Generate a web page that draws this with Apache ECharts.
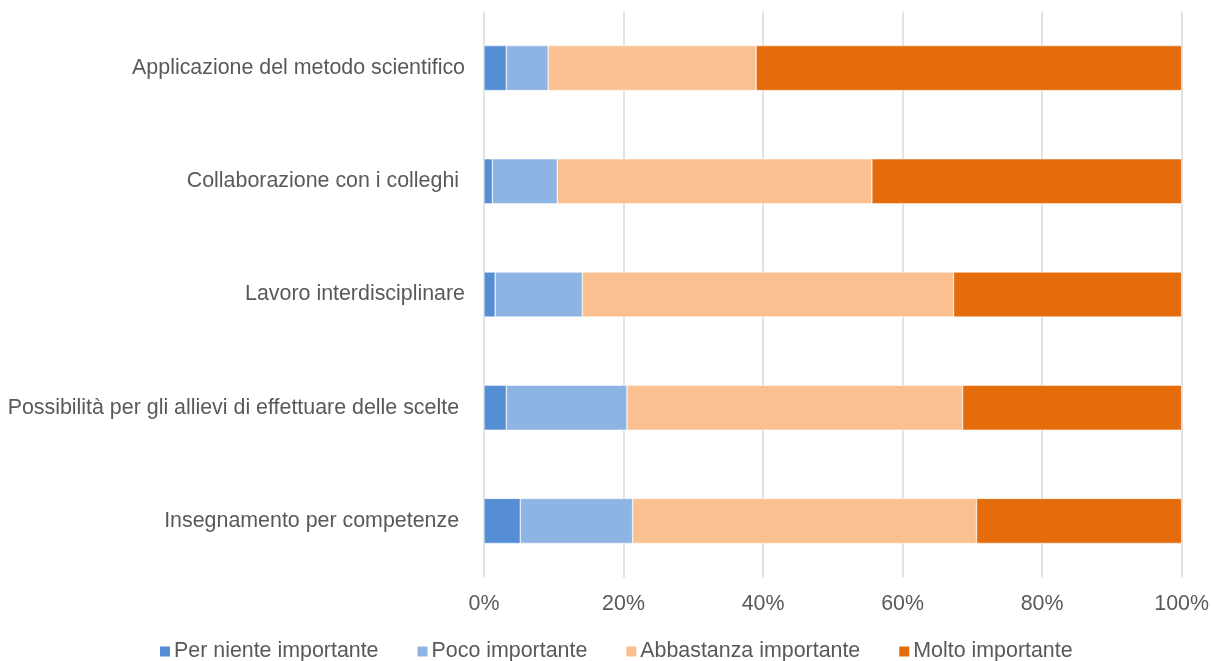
<!DOCTYPE html>
<html>
<head>
<meta charset="utf-8">
<script src="https://cdn.jsdelivr.net/npm/echarts@6/dist/echarts.min.js"></script>
<style>
html,body{margin:0;padding:0;background:#fff;}
#chart{width:1212px;height:661px;}
</style>
</head>
<body>
<div id="chart"></div>
<script>
const categories = [
  "Applicazione del metodo scientifico",
  "Collaborazione con i colleghi ",
  "Lavoro interdisciplinare",
  "Possibilità per gli allievi di effettuare delle scelte ",
  "Insegnamento per competenze "
];
const seriesNames = ["Per niente importante", "Poco importante", "Abbastanza importante", "Molto importante"];
const perNiente = [3.2, 1.2, 1.6, 3.2, 5.2];
const poco = [6.0, 9.3, 12.5, 17.3, 16.1];
const abbastanza = [29.8, 45.1, 53.2, 48.1, 49.3];
const molto = [61.0, 44.4, 32.7, 31.4, 29.4];
const colors = ["#558ED5", "#8EB4E3", "#FAC090", "#E46C0A"];

const values = [perNiente, poco, abbastanza, molto];
const chart = echarts.init(document.getElementById('chart'), null, {renderer: 'canvas'});
const font = "'Liberation Sans', Arial, sans-serif";
const fs = 21.4;
chart.setOption({
  animation: false,
  backgroundColor: '#ffffff',
  grid: {left: 484, right: 30, top: 11.5, bottom: 83.5, containLabel: false},
  legend: {
    top: 641,
    left: 160,
    padding: 0,
    itemWidth: 10,
    itemHeight: 10,
    itemGap: 39,
    icon: 'rect',
    itemStyle: {borderWidth: 0},
    textStyle: {fontFamily: font, fontSize: fs, color: '#595959', padding: [0, 0, 0, -1]},
    data: seriesNames
  },
  xAxis: {
    type: 'value',
    min: 0,
    max: 100,
    interval: 20,
    axisLine: {show: false},
    axisTick: {show: false},
    splitLine: {show: true, lineStyle: {color: '#D9D9D9', width: 1.5}},
    axisLabel: {formatter: '{value}%', fontFamily: font, fontSize: fs, color: '#595959', margin: 16}
  },
  yAxis: {
    type: 'category',
    inverse: true,
    data: categories,
    axisLine: {show: false},
    axisTick: {show: false},
    axisLabel: {fontFamily: font, fontSize: fs, color: '#595959', margin: 19}
  },
  series: seriesNames.map((name, i) => ({
    name: name,
    type: 'bar',
    stack: 'total',
    barWidth: 45,
    itemStyle: {color: colors[i], borderColor: '#ffffff', borderWidth: 0.5},
    data: values[i]
  }))
});
</script>
</body>
</html>
